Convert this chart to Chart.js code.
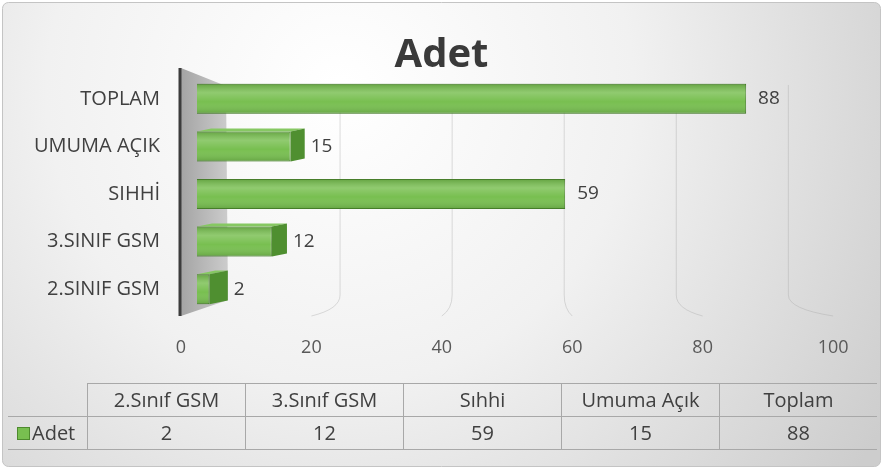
<!DOCTYPE html>
<html>
<head>
<meta charset="utf-8">
<script src="https://cdn.jsdelivr.net/npm/chart.js@4.4.1/dist/chart.umd.min.js"></script>
<style>
  html, body { margin: 0; padding: 0; background: #fff; }
  #wrap { position: relative; width: 883px; height: 469px; font-family: "Open Sans", sans-serif; }
  #myChart { position: absolute; left: 0; top: 0; }
  #dataTable {
    position: absolute; left: 8px; top: 383px;
    border-collapse: collapse; table-layout: fixed;
    color: #404040; font-size: 20px;
  }
  #dataTable td { border: 1px solid #a8a8a8; text-align: center; padding: 0; height: 32px; width: 157px; line-height: 1; }
  #dataTable td.key { width: 79px; border-left: none; text-align: left; }
  #dataTable tr:first-child td.key { border-top: none; }
  #dataTable td:last-child { border-right: none; }
  .swatch { display: inline-block; width: 11px; height: 11px; background: #78bf50; border: 1px solid #4e8a2e; margin: 0 2px 0 9px; vertical-align: 0; }
</style>
</head>
<body>
<div id="wrap">
  <canvas id="myChart" width="883" height="469"></canvas>
  <table id="dataTable">
    <tr id="headRow"><td class="key"></td></tr>
    <tr id="valueRow"><td class="key"><span class="swatch"></span>Adet</td></tr>
  </table>
</div>
<script>
const seriesName = "Adet";
const categories = ["2.Sınıf GSM", "3.Sınıf GSM", "Sıhhi", "Umuma Açık", "Toplam"];
const axisLabels = ["2.SINIF GSM", "3.SINIF GSM", "SIHHİ", "UMUMA AÇIK", "TOPLAM"];
const values = [2, 12, 59, 15, 88];
const tickValues = [0, 20, 40, 60, 80, 100];

const fontFamily = "'Open Sans', sans-serif";
const textColor = "#404040";

document.addEventListener("DOMContentLoaded", () => {
  // data table under the chart
  const headRow = document.getElementById("headRow");
  const valueRow = document.getElementById("valueRow");
  categories.forEach((c, i) => {
    const th = document.createElement("td");
    th.textContent = c;
    headRow.appendChild(th);
    const td = document.createElement("td");
    td.textContent = values[i];
    valueRow.appendChild(td);
  });

  const look3d = {
    id: "look3d",
    afterLayout(chart) {
      // centre the title on the whole canvas, not the padded area
      if (chart.titleBlock) {
        chart.titleBlock.left = 0;
        chart.titleBlock.right = chart.width;
        chart.titleBlock.width = chart.width;
      }
    },
    beforeDraw(chart) {
      const { ctx, width, height } = chart;
      const g = ctx.createRadialGradient(340, 90, 10, 340, 90, 640);
      g.addColorStop(0, "#ffffff");
      g.addColorStop(0.45, "#f1f1f1");
      g.addColorStop(1, "#cdcdcd");
      ctx.save();
      ctx.fillStyle = g;
      ctx.strokeStyle = "#c4c4c4";
      ctx.lineWidth = 1;
      ctx.beginPath();
      ctx.roundRect(2.5, 2.5, width - 5, height - 5, 6);
      ctx.fill();
      ctx.stroke();
      ctx.restore();
    },
    beforeDatasetsDraw(chart) {
      const { ctx, chartArea: a, scales: { x } } = chart;
      ctx.save();
      // side wall
      const wg = ctx.createLinearGradient(a.left - 16, 0, a.left + 31, 0);
      wg.addColorStop(0, "#a4a4a4");
      wg.addColorStop(1, "#cccccc");
      ctx.fillStyle = wg;
      ctx.beginPath();
      ctx.moveTo(a.left - 16, a.top - 7);
      ctx.lineTo(a.left + 29, a.top + 11);
      ctx.lineTo(a.left + 31, a.bottom - 13);
      ctx.lineTo(a.left - 16, a.bottom + 3);
      ctx.closePath();
      ctx.fill();
      // back gridlines curving to the front
      ctx.strokeStyle = "rgba(170,170,170,0.4)";
      ctx.lineWidth = 1;
      x.ticks.forEach(t => {
        if (t.value === 0) return;
        const px = x.getPixelForValue(t.value) - a.left;
        const bx = a.left + 31 + px * 0.898;
        const fx = a.left - 16 + px * 1.045;
        ctx.beginPath();
        ctx.moveTo(bx, a.top + 10);
        ctx.lineTo(bx, a.bottom - 18);
        ctx.quadraticCurveTo(bx, a.bottom - 4, fx, a.bottom + 3);
        ctx.stroke();
      });
      // axis line
      ctx.strokeStyle = "#3c3c3c";
      ctx.lineWidth = 3;
      ctx.beginPath();
      ctx.moveTo(a.left - 17, a.top - 7);
      ctx.lineTo(a.left - 17, a.bottom + 3);
      ctx.stroke();
      ctx.restore();
    },
    afterDatasetsDraw(chart) {
      const { ctx, chartArea: a, scales: { x } } = chart;
      const meta = chart.getDatasetMeta(0);
      const eyeX = a.left + (a.right - a.left) * 0.585;
      ctx.save();
      meta.data.forEach((bar, i) => {
        const top = bar.y - bar.height / 2;
        const bot = bar.y + bar.height / 2;
        const dx = Math.max(0, (eyeX - bar.x) * 0.052);
        const dy = dx * 0.2;
        // shading on the front face
        const fg = ctx.createLinearGradient(0, top, 0, bot);
        fg.addColorStop(0, "rgba(40,80,20,0.25)");
        fg.addColorStop(0.3, "rgba(255,255,255,0.18)");
        fg.addColorStop(0.6, "rgba(255,255,255,0)");
        fg.addColorStop(1, "rgba(30,70,15,0.22)");
        ctx.fillStyle = fg;
        ctx.fillRect(bar.base, top, bar.x - bar.base, bot - top);
        if (dx > 0.5) {
          // top face
          ctx.fillStyle = "#86c862";
          ctx.beginPath();
          ctx.moveTo(bar.base, top);
          ctx.lineTo(bar.base + dx, top - dy);
          ctx.lineTo(bar.x + dx, top - dy);
          ctx.lineTo(bar.x, top);
          ctx.closePath();
          ctx.fill();
          // side face
          ctx.fillStyle = "#4f8f30";
          ctx.beginPath();
          ctx.moveTo(bar.x, top);
          ctx.lineTo(bar.x + dx, top - dy);
          ctx.lineTo(bar.x + dx, bot - dy);
          ctx.lineTo(bar.x, bot);
          ctx.closePath();
          ctx.fill();
        }
        // value label
        ctx.fillStyle = textColor;
        ctx.font = "19px " + fontFamily;
        ctx.textAlign = "left";
        ctx.textBaseline = "middle";
        ctx.fillText(String(values[i]), bar.x + Math.max(dx + 6, 12), bar.y);
      });
      // front tick labels
      ctx.fillStyle = "#595959";
      ctx.font = "18px " + fontFamily;
      ctx.textAlign = "center";
      ctx.textBaseline = "middle";
      x.ticks.forEach(t => {
        const px = x.getPixelForValue(t.value) - a.left;
        ctx.fillText(String(t.value), a.left - 16 + px * 1.045, a.bottom + 35);
      });
      ctx.restore();
    }
  };

  const ctx = document.getElementById("myChart");
  new Chart(ctx, {
    type: "bar",
    data: {
      labels: axisLabels,
      datasets: [{
        label: seriesName,
        data: values,
        backgroundColor: "#78bf50",
        borderColor: "#4e8a2e",
        borderWidth: 1,
        barPercentage: 0.63,
        categoryPercentage: 1
      }]
    },
    options: {
      responsive: false,
      animation: false,
      indexAxis: "y",
      layout: { padding: { left: 0, right: 62, top: 0, bottom: 156 } },
      plugins: {
        legend: { display: false },
        tooltip: { enabled: false },
        title: {
          display: true,
          text: "Adet",
          color: "#3a3a3a",
          font: { family: fontFamily, size: 40, weight: "bold", lineHeight: 0.95 },
          padding: { top: 37, bottom: 0 }
        }
      },
      scales: {
        x: {
          min: 0, max: 100,
          afterBuildTicks(s) { s.ticks = tickValues.map(v => ({ value: v })); },
          ticks: { display: false },
          grid: { display: false },
          border: { display: false },
          afterFit(s) { s.height = 0; }
        },
        y: {
          reverse: true,
          grid: { display: false, drawTicks: false },
          border: { display: false },
          ticks: { padding: 37, color: textColor, font: { family: fontFamily, size: 20 } },
          afterFit(s) { s.width = 197; }
        }
      }
    },
    plugins: [look3d]
  });
});
</script>
</body>
</html>
